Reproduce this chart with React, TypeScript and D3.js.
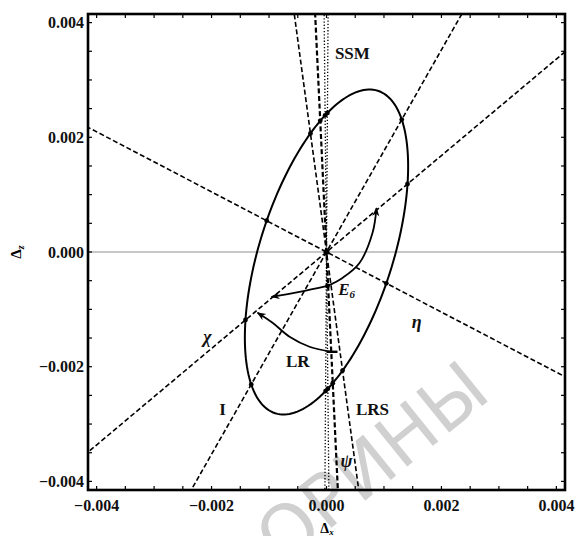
import React from 'react';
import * as d3 from 'd3';

const W = 576;
const H = 536;
const LIM = 0.00415;

// tick labels
const majorTicks = [-0.004, -0.002, 0, 0.002, 0.004];
const tickLabels = ['\u22120.004', '\u22120.002', '0.000', '0.002', '0.004'];

// straight lines through the origin (dz/dx)
const lineNames = ['chi', 'eta', 'I', 'LRS', 'psi', 'dotA', 'dotB'];
const lineSlopes = [0.841, -0.524, 1.763, -7.4, -21, -100, 150];
const lineDash = ['5,2.6', '5,2.6', '5,2.6', '5,2.6', '5,2.6', '1.3,1.9', '1.3,1.9'];
const lineWidth = [1.6, 1.6, 1.6, 1.6, 2.2, 1.3, 1.3];

// ellipse (semi-major, semi-minor, tilt in degrees)
const ellipseAxes = [0.00295, 0.00116];
const ellipseTilt = 72.4;

// arrowed arcs
const arcE6UpX = [0.0000174, 0.000278, 0.000574, 0.0008, 0.00087];
const arcE6UpZ = [-0.000591, -0.000452, -0.000191, 0.00033, 0.000765];
const arcE6LeftX = [0.0000174, -0.00047, -0.000957];
const arcE6LeftZ = [-0.000591, -0.000696, -0.000783];
const arcLRX = [0.000087, -0.000296, -0.000643, -0.000939, -0.0012];
const arcLRZ = [-0.00174, -0.001652, -0.001478, -0.001235, -0.00106];

// labels
const labelText = ['SSM', 'LR', 'I', 'LRS'];
const labelX = [0.00045, -0.0005, -0.00181, 0.0008];
const labelZ = [0.00346, -0.00191, -0.00275, -0.00275];

export default function App() {
  const x = d3.scaleLinear().domain([-LIM, LIM]).range([88, 565]);
  const y = d3.scaleLinear().domain([-LIM, LIM]).range([490, 14]);
  const minor = d3.range(-0.004, 0.00401, 0.0005);

  const th = (ellipseTilt * Math.PI) / 180;
  const [ea, eb] = ellipseAxes;
  const ellPts = d3.range(0, 361, 2).map((deg) => {
    const t = (deg * Math.PI) / 180;
    const u = ea * Math.cos(t);
    const v = eb * Math.sin(t);
    return [u * Math.cos(th) - v * Math.sin(th), u * Math.sin(th) + v * Math.cos(th)];
  });
  const path = d3.line<number[]>().x((d) => x(d[0])).y((d) => y(d[1]));
  const curve = d3
    .line<number[]>()
    .x((d) => x(d[0]))
    .y((d) => y(d[1]))
    .curve(d3.curveCatmullRom);

  // where the lines cross the ellipse
  const dots: number[][] = [[0, 0]];
  lineSlopes.forEach((m) => {
    const n = Math.sqrt(1 + m * m);
    const ux = 1 / n;
    const uz = m / n;
    const u1 = ux * Math.cos(th) + uz * Math.sin(th);
    const u2 = -ux * Math.sin(th) + uz * Math.cos(th);
    const r = 1 / Math.sqrt((u1 * u1) / (ea * ea) + (u2 * u2) / (eb * eb));
    dots.push([r * ux, r * uz]);
    dots.push([-r * ux, -r * uz]);
  });
  dots.push([arcE6UpX[0], arcE6UpZ[0]]);

  const zip = (a: number[], b: number[]) => a.map((v, i) => [v, b[i]]);
  const font = 'Liberation Serif, Times New Roman, serif';

  return (
    <svg width={W} height={H} style={{ position: 'absolute', left: 0, top: 0, background: '#fff' }}>
      <defs>
        <clipPath id="plot">
          <rect x={88} y={14} width={477} height={476} />
        </clipPath>
        <marker id="arr" viewBox="0 0 10 10" refX="9" refY="5" markerWidth="9" markerHeight="9" markerUnits="userSpaceOnUse" orient="auto">
          <path d="M0,1 L10,5 L0,9 L3,5 Z" fill="#000" />
        </marker>
      </defs>

      <text
        transform="translate(282,568) rotate(-39)"
        fontFamily="DejaVu Sans, sans-serif"
        fontSize={72}
        fill="#d0d0d0"
      >
        ОРИНЫ
      </text>

      <g clipPath="url(#plot)">
        <line x1={x(-LIM)} x2={x(LIM)} y1={y(0)} y2={y(0)} stroke="#b4b4b4" strokeWidth={1.5} />
        {lineSlopes.map((m, i) => {
          const n = Math.sqrt(1 + m * m);
          const L = 0.012;
          return (
            <line
              key={lineNames[i]}
              x1={x((-L) / n)}
              y1={y((-L * m) / n)}
              x2={x(L / n)}
              y2={y((L * m) / n)}
              stroke="#000"
              strokeWidth={lineWidth[i]}
              strokeDasharray={lineDash[i]}
            />
          );
        })}
        <path d={path(ellPts) || ''} fill="none" stroke="#000" strokeWidth={2} />
        <path d={curve(zip(arcE6UpX, arcE6UpZ)) || ''} fill="none" stroke="#000" strokeWidth={1.8} markerEnd="url(#arr)" />
        <path d={curve(zip(arcE6LeftX, arcE6LeftZ)) || ''} fill="none" stroke="#000" strokeWidth={1.8} markerEnd="url(#arr)" />
        <path d={curve(zip(arcLRX, arcLRZ)) || ''} fill="none" stroke="#000" strokeWidth={1.8} markerEnd="url(#arr)" />
        <line x1={x(arcLRX[0]) - 5} x2={x(arcLRX[0]) + 6} y1={y(arcLRZ[0])} y2={y(arcLRZ[0])} stroke="#000" strokeWidth={2.4} />
        {dots.map((d, i) => (
          <circle key={i} cx={x(d[0])} cy={y(d[1])} r={i === 0 ? 3 : 2.4} fill="#000" />
        ))}
      </g>

      {/* ticks on all four sides */}
      {minor.map((v) => (
        <g key={v} stroke="#000" strokeWidth={1.2}>
          <line x1={x(v)} x2={x(v)} y1={490} y2={486} />
          <line x1={x(v)} x2={x(v)} y1={14} y2={18} />
          <line x1={88} x2={92} y1={y(v)} y2={y(v)} />
          <line x1={565} x2={561} y1={y(v)} y2={y(v)} />
        </g>
      ))}
      <rect x={88} y={14} width={477} height={476} fill="none" stroke="#000" strokeWidth={2.6} />

      {majorTicks.map((v, i) => (
        <g key={v} fontFamily={font} fontWeight="bold" fontSize={16} fill="#111">
          <text x={x(v)} y={511} textAnchor="middle">{tickLabels[i]}</text>
          <text x={84} y={y(v)} textAnchor="end" dominantBaseline="central">{tickLabels[i]}</text>
        </g>
      ))}

      <text transform="translate(21,252) rotate(-90)" textAnchor="middle" fontFamily={font} fontSize={15} fontWeight="bold">
        Δ<tspan fontSize={10} dy={3} fontStyle="italic">z</tspan>
      </text>
      <text x={327} y={533} textAnchor="middle" fontFamily={font} fontSize={14} fontWeight="bold">
        Δ<tspan fontSize={9} dy={2} fontStyle="italic">x</tspan>
      </text>

      <g fontFamily={font} fontWeight="bold" fontSize={17} fill="#111">
        {labelText.map((t, i) => (
          <text key={t} x={x(labelX[i])} y={y(labelZ[i])} textAnchor="middle" dominantBaseline="central">{t}</text>
        ))}
        <text x={x(0.00035)} y={y(-0.00066)} textAnchor="middle" dominantBaseline="central" fontStyle="italic">
          E<tspan fontSize={11} dy={4}>6</tspan>
        </text>
        <text x={x(0.00157)} y={y(-0.00122)} textAnchor="middle" dominantBaseline="central" fontStyle="italic" fontSize={18}>η</text>
        <text x={x(-0.00207)} y={y(-0.00148)} textAnchor="middle" dominantBaseline="central" fontStyle="italic" fontSize={18}>χ</text>
        <text x={x(0.00035)} y={y(-0.00365)} textAnchor="middle" dominantBaseline="central" fontStyle="italic" fontSize={18}>ψ</text>
      </g>
    </svg>
  );
}
